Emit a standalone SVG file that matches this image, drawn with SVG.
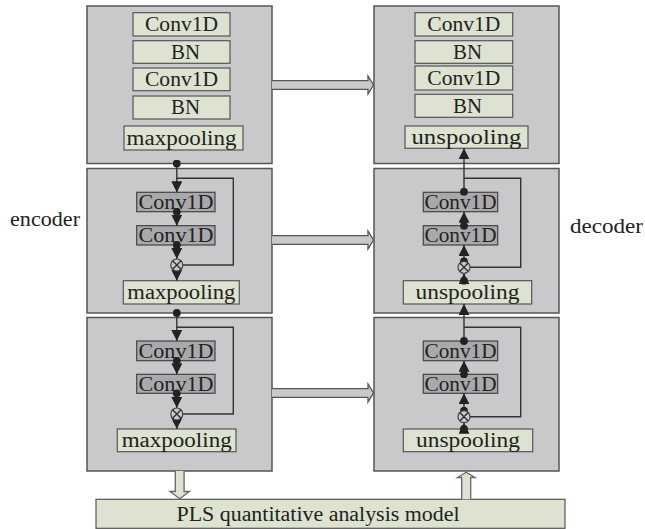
<svg xmlns="http://www.w3.org/2000/svg" width="645" height="529" viewBox="0 0 645 529">
<defs>
<style>
.blk{fill:#c9c9cb;stroke:#555;stroke-width:1.5}
.lab{fill:#dde3d0;stroke:#555;stroke-width:1.2}
.res{fill:#a9a9ab;stroke:#444;stroke-width:1.2}
.t{font-family:"Liberation Serif","Times New Roman",serif;font-size:20px;fill:#222;text-anchor:middle}
.side{font-family:"Liberation Serif","Times New Roman",serif;font-size:20px;fill:#222}
.ln{fill:none;stroke:#333;stroke-width:1.4}
.ar{stroke:#333;stroke-width:1.4;fill:none;marker-end:url(#arr);marker-start:url(#dot)}
.harr{fill:#c9c9cb;stroke:#555;stroke-width:1.3}
.varr{fill:#dde3d0;stroke:#666;stroke-width:1.3}
.ot{fill:#c9c9cb;stroke:#444;stroke-width:1.2}
</style>
<marker id="arr" viewBox="0 0 10 10" refX="10" refY="5" markerWidth="11" markerHeight="11" markerUnits="userSpaceOnUse" orient="auto"><path d="M0,0 L10,5 L0,10 z" fill="#222"/></marker>
<marker id="dot" viewBox="0 0 8 8" refX="4" refY="4" markerWidth="8" markerHeight="8" markerUnits="userSpaceOnUse"><circle cx="4" cy="4" r="3.9" fill="#222"/></marker>
</defs>

<text class="side" x="10" y="226" textLength="70" lengthAdjust="spacingAndGlyphs">encoder</text>
<text class="side" x="570" y="233" textLength="73" lengthAdjust="spacingAndGlyphs">decoder</text>

<g id="enc1">
<rect class="blk" x="87" y="6" width="185" height="157.5"/>
<rect class="lab" x="133" y="12.7" width="97" height="23.3"/><text class="t" x="181.5" y="31" textLength="73" lengthAdjust="spacingAndGlyphs">Conv1D</text>
<rect class="lab" x="133" y="40.7" width="97" height="22.6"/><text class="t" x="185.5" y="58.5" textLength="29" lengthAdjust="spacingAndGlyphs">BN</text>
<rect class="lab" x="133" y="68" width="97" height="22.7"/><text class="t" x="181.5" y="85.8" textLength="73" lengthAdjust="spacingAndGlyphs">Conv1D</text>
<rect class="lab" x="133" y="96" width="97" height="23"/><text class="t" x="185.5" y="114" textLength="29" lengthAdjust="spacingAndGlyphs">BN</text>
<rect class="lab" x="124" y="126" width="119" height="24"/><text class="t" x="181.5" y="144.5" textLength="110" lengthAdjust="spacingAndGlyphs">maxpooling</text>
</g>

<g id="enc2">
<rect class="blk" x="87" y="168.5" width="185" height="144.5"/>
<rect class="res" x="136.7" y="192.3" width="78.3" height="19.4"/><text class="t" x="176" y="208.8" textLength="75" lengthAdjust="spacingAndGlyphs">Conv1D</text>
<rect class="res" x="136.7" y="225.7" width="78.3" height="19.3"/><text class="t" x="176" y="242.2" textLength="75" lengthAdjust="spacingAndGlyphs">Conv1D</text>
<rect class="lab" x="123.3" y="280.7" width="116" height="23.3"/><text class="t" x="181.3" y="298.8" textLength="108" lengthAdjust="spacingAndGlyphs">maxpooling</text>
</g>

<g id="enc3">
<rect class="blk" x="87" y="317.5" width="185" height="153.5"/>
<rect class="res" x="136.7" y="341" width="78.3" height="19.7"/><text class="t" x="176" y="357.8" textLength="75" lengthAdjust="spacingAndGlyphs">Conv1D</text>
<rect class="res" x="136.7" y="374.3" width="78.3" height="19"/><text class="t" x="176" y="390.8" textLength="75" lengthAdjust="spacingAndGlyphs">Conv1D</text>
<rect class="lab" x="117.3" y="429" width="118.7" height="22.7"/><text class="t" x="176.7" y="446.8" textLength="110" lengthAdjust="spacingAndGlyphs">maxpooling</text>
</g>

<g id="dec1">
<rect class="blk" x="374" y="6" width="185" height="157.5"/>
<rect class="lab" x="415" y="12.7" width="97.7" height="23.3"/><text class="t" x="463.8" y="31" textLength="73" lengthAdjust="spacingAndGlyphs">Conv1D</text>
<rect class="lab" x="415" y="40.7" width="97.7" height="22.6"/><text class="t" x="467.5" y="58.5" textLength="29" lengthAdjust="spacingAndGlyphs">BN</text>
<rect class="lab" x="415" y="66" width="97.7" height="24"/><text class="t" x="463.8" y="84.5" textLength="73" lengthAdjust="spacingAndGlyphs">Conv1D</text>
<rect class="lab" x="415" y="94.3" width="97.7" height="23"/><text class="t" x="467.5" y="112.5" textLength="29" lengthAdjust="spacingAndGlyphs">BN</text>
<rect class="lab" x="405" y="126" width="123" height="22.3"/><text class="t" x="466.5" y="143.5" textLength="110" lengthAdjust="spacingAndGlyphs">unspooling</text>
</g>

<g id="dec2">
<rect class="blk" x="374" y="168.5" width="185" height="144.5"/>
<rect class="res" x="423.3" y="192.3" width="74.4" height="19.4"/><text class="t" x="460.5" y="208.8" textLength="72" lengthAdjust="spacingAndGlyphs">Conv1D</text>
<rect class="res" x="423.3" y="225.7" width="74.4" height="19.3"/><text class="t" x="460.5" y="242.2" textLength="72" lengthAdjust="spacingAndGlyphs">Conv1D</text>
<rect class="lab" x="403.3" y="280.7" width="128.4" height="23.3"/><text class="t" x="467.5" y="298.8" textLength="104" lengthAdjust="spacingAndGlyphs">unspooling</text>
</g>

<g id="dec3">
<rect class="blk" x="374" y="317.5" width="185" height="153.5"/>
<rect class="res" x="423.3" y="341" width="74.4" height="19.7"/><text class="t" x="460.5" y="357.8" textLength="72" lengthAdjust="spacingAndGlyphs">Conv1D</text>
<rect class="res" x="423.3" y="374.3" width="74.4" height="19"/><text class="t" x="460.5" y="390.8" textLength="72" lengthAdjust="spacingAndGlyphs">Conv1D</text>
<rect class="lab" x="403.3" y="429" width="129.4" height="22.7"/><text class="t" x="468" y="446.8" textLength="104" lengthAdjust="spacingAndGlyphs">unspooling</text>
</g>

<g id="pls">
<rect class="lab" x="96" y="499.3" width="469" height="29" stroke="#666"/>
<text class="t" x="318" y="520.5" textLength="283" lengthAdjust="spacingAndGlyphs">PLS quantitative analysis model</text>
</g>

<g id="connectors">
<path class="harr" d="M272,80.7 H368 V76 L373.5,85 L368,94 V89.3 H272"/>
<path class="harr" d="M272,235.7 H368 V231 L373.5,240 L368,249 V244.3 H272"/>
<path class="harr" d="M272,388.7 H368 V384 L373.5,393 L368,402 V397.3 H272"/>
<path class="varr" d="M175.3,471 V491.5 H170 L179.7,498.7 L189.4,491.5 H184.1 V471"/>
<path class="varr" d="M461.7,499.3 V477.5 H457.5 L466.2,472.3 L475,477.5 H470.7 V499.3"/>

<path class="ar" d="M176.8,163.5 V192.3"/>
<path class="ln" d="M176.8,178.3 H233.3 V265 H182.8"/>
<path class="ar" d="M176.8,211.7 V225.7"/>
<path class="ar" d="M176.8,245 V259"/>
<path class="ar" d="M176.8,271 V280.7"/>
<circle class="ot" cx="176.8" cy="265" r="6"/>
<path class="ln" d="M172.6,260.8 L181,269.2 M181,260.8 L172.6,269.2"/>

<path class="ar" d="M176.8,313 V341"/>
<path class="ln" d="M176.8,327.3 H233.3 V414 H182.8"/>
<path class="ar" d="M176.8,360.7 V374.3"/>
<path class="ar" d="M176.8,393.3 V408"/>
<path class="ar" d="M176.8,420 V429"/>
<circle class="ot" cx="176.8" cy="414" r="6"/>
<path class="ln" d="M172.6,409.8 L181,418.2 M181,409.8 L172.6,418.2"/>

<path class="ar" d="M464,191.7 V148.3"/>
<path class="ln" d="M464,178.3 H520.7 V267.3 H470"/>
<path class="ar" d="M464,225.7 V211.7"/>
<path class="ar" d="M464,261.3 V245"/>
<path class="ar" d="M464,280.7 V273.3"/>
<circle class="ot" cx="464" cy="267.3" r="6"/>
<path class="ln" d="M459.8,263.1 L468.2,271.5 M468.2,263.1 L459.8,271.5"/>

<path class="ar" d="M464,341 V304"/>
<path class="ln" d="M464,327.3 H520.7 V416.7 H470"/>
<path class="ar" d="M464,374.3 V360.7"/>
<path class="ar" d="M464,410.7 V393.3"/>
<path class="ar" d="M464,429 V422.7"/>
<circle class="ot" cx="464" cy="416.7" r="6"/>
<path class="ln" d="M459.8,412.5 L468.2,420.9 M468.2,412.5 L459.8,420.9"/>
</g>
</svg>
